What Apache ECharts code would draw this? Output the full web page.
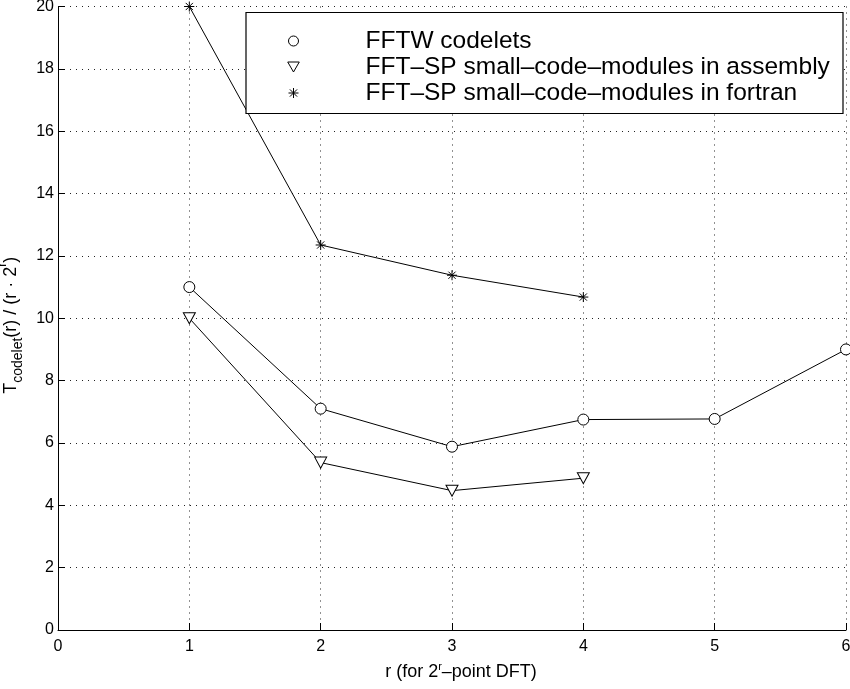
<!DOCTYPE html>
<html>
<head>
<meta charset="utf-8">
<script src="https://cdn.jsdelivr.net/npm/echarts@6/dist/echarts.min.js"></script>
<style>
  html, body { margin: 0; padding: 0; background: #fff; }
  #chart { width: 850px; height: 689px; }
</style>
</head>
<body>
<div id="chart"></div>
<script>
// r values (transform size 2^r)
const rValues = [1, 2, 3, 4, 5, 6];
// Normalised codelet time per (r * 2^r)
const fftwCodelets = [11.0, 7.1, 5.88, 6.75, 6.77, 9.0];
const spAssembly = [10.0, 5.37, 4.47, 4.87];
const spFortran = [20.0, 12.35, 11.38, 10.68];

const seriesNames = [
  'FFTW codelets',
  'FFT\u2013SP small\u2013code\u2013modules in assembly',
  'FFT\u2013SP small\u2013code\u2013modules in fortran'
];

const FONT = '"Liberation Sans", Arial, Helvetica, sans-serif';

// Marker shapes
const triDown = 'path://M-6,-3.5L6,-3.5L0,6.9Z';
const asterisk = 'path://M0,-5L0,5M-5,0L5,0M-3.6,-3.6L3.6,3.6M-3.6,3.6L3.6,-3.6';

function pairs(values) {
  return values.map((v, i) => [rValues[i], v]);
}

const chart = echarts.init(document.getElementById('chart'), null, { renderer: 'canvas' });

const gridDots = { color: '#222', width: 1, type: [1, 5] };
const hollow = { color: '#fff', borderColor: '#000', borderWidth: 1 };

chart.setOption({
  animation: false,
  backgroundColor: '#fff',
  textStyle: { fontFamily: FONT },
  grid: { left: 58, right: 4, top: 6.5, bottom: 59, containLabel: false, outerBoundsMode: 'none' },
  xAxis: {
    type: 'value',
    min: 0, max: 6, interval: 1,
    axisLine: { show: true, onZero: false, lineStyle: { color: '#000', width: 1 } },
    axisTick: { show: true, inside: true, length: 7, lineStyle: { color: '#000' } },
    axisLabel: { color: '#000', fontSize: 16, margin: 9, fontFamily: FONT },
    splitLine: { show: true, lineStyle: gridDots },
    name: '{m|r (for 2}{sup|r}{m|\u2013point DFT)}',
    nameLocation: 'middle',
    nameGap: 31,
    nameTextStyle: {
      padding: [0, 0, 0, 18],
      rich: {
        m: { fontSize: 18, color: '#000', fontFamily: FONT, lineHeight: 22, verticalAlign: 'middle' },
        sup: { fontSize: 11, color: '#000', fontFamily: FONT, lineHeight: 11, verticalAlign: 'top' }
      }
    }
  },
  yAxis: {
    type: 'value',
    min: 0, max: 20, interval: 2,
    axisLine: { show: true, onZero: false, lineStyle: { color: '#000', width: 1 } },
    axisTick: { show: true, inside: true, length: 7, lineStyle: { color: '#000' } },
    axisLabel: { color: '#000', fontSize: 16, margin: 4, fontFamily: FONT },
    splitLine: { show: true, lineStyle: gridDots },
    name: '{m|T}{sub|codelet}{m|(r) / (r \u00b7 2}{sup|r}{m|)}',
    nameLocation: 'middle',
    nameRotate: 90,
    nameGap: 31,
    nameTextStyle: {
      padding: [0, 14, 0, 0],
      rich: {
        m: { fontSize: 18, color: '#000', fontFamily: FONT, lineHeight: 29, verticalAlign: 'middle' },
        sub: { fontSize: 14, color: '#000', fontFamily: FONT, lineHeight: 14, verticalAlign: 'bottom' },
        sup: { fontSize: 12, color: '#000', fontFamily: FONT, lineHeight: 12, verticalAlign: 'top' }
      }
    }
  },
  legend: {
    orient: 'vertical',
    left: 286,
    top: 28,
    padding: 0,
    itemWidth: 134,
    itemHeight: 10,
    itemGap: 0,
    z: 20,
    selectedMode: false,
    textStyle: { fontSize: 24.5, color: '#000', fontFamily: FONT, lineHeight: 26 },
    data: [
      { name: seriesNames[0], icon: 'circle', itemStyle: hollow },
      { name: seriesNames[1], icon: triDown, itemStyle: hollow },
      { name: seriesNames[2], icon: asterisk, itemStyle: { color: 'none', borderColor: '#000', borderWidth: 1 } }
    ]
  },
  graphic: [{
    type: 'rect',
    z: 10,
    shape: { x: 246, y: 12.5, width: 597, height: 101 },
    style: { fill: '#fff', stroke: '#000', lineWidth: 1.2 }
  }],
  series: [
    {
      name: seriesNames[0],
      type: 'line',
      data: pairs(fftwCodelets),
      symbol: 'circle',
      symbolSize: 11,
      lineStyle: { color: '#000', width: 1 },
      itemStyle: hollow,
      clip: false
    },
    {
      name: seriesNames[1],
      type: 'line',
      data: pairs(spAssembly),
      symbol: triDown,
      symbolSize: [12, 11],
      lineStyle: { color: '#000', width: 1 },
      itemStyle: hollow,
      clip: false
    },
    {
      name: seriesNames[2],
      type: 'line',
      data: pairs(spFortran),
      symbol: asterisk,
      symbolSize: 10,
      lineStyle: { color: '#000', width: 1 },
      itemStyle: { color: 'none', borderColor: '#000', borderWidth: 1 },
      clip: false
    }
  ]
});
</script>
</body>
</html>
